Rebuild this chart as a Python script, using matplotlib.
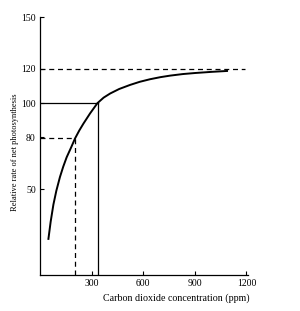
import numpy as np
import matplotlib
matplotlib.use("Agg")
import matplotlib.pyplot as plt

# curve
co2_ppm = [49, 62, 78, 95, 116, 135, 155, 180, 204, 228, 252, 291, 334,
           370, 408, 460, 524, 580, 640, 700, 757, 830, 900, 1000, 1087]
rate = [21, 31, 41, 49, 57, 63, 68.5, 74, 79.5, 84, 88, 94, 100,
        103.2, 105.6, 108.2, 110.6, 112.4, 113.9, 115.1, 116, 116.9, 117.5, 118.2, 118.7]

x_ticks = [300, 600, 900, 1200]
y_ticks = [50, 80, 100, 120, 150]

# guide lines
max_rate = 120
max_rate_x_end = 1190
dashed_pt = (204, 79.5)
solid_pt = (336, 100)

plt.rcParams["font.family"] = ["Liberation Serif", "DejaVu Serif"]

fig = plt.figure(figsize=(3.0, 3.11), dpi=100)
ax = fig.add_axes([0.1333, 0.1158, 0.694, 0.829])

ax.plot(co2_ppm, rate, color="black", lw=1.4)

dash = (0, (4, 3))
ax.plot([0, max_rate_x_end], [max_rate, max_rate], color="black", lw=0.9, ls=dash)
ax.plot([0, dashed_pt[0]], [dashed_pt[1], dashed_pt[1]], color="black", lw=0.9, ls=dash)
ax.plot([dashed_pt[0], dashed_pt[0]], [0, dashed_pt[1]], color="black", lw=0.9, ls=dash)
ax.plot([0, solid_pt[0]], [solid_pt[1], solid_pt[1]], color="black", lw=0.9)
ax.plot([solid_pt[0], solid_pt[0]], [0, solid_pt[1]], color="black", lw=0.9)

ax.set_xlim(0, 1210)
ax.set_ylim(0, 150)
ax.set_xticks(x_ticks)
ax.set_yticks(y_ticks)
ax.tick_params(direction="in", length=3, width=0.8, labelsize=7, pad=3)
for side in ["top", "right"]:
    ax.spines[side].set_visible(False)
for side in ["left", "bottom"]:
    ax.spines[side].set_linewidth(0.9)

ax.set_xlabel("Carbon dioxide concentration (ppm)", fontsize=7.2)
ax.xaxis.set_label_coords(0.654, -0.07)
ax.set_ylabel("Relative rate of net photosynthesis", fontsize=6)
ax.yaxis.set_label_coords(-0.1, 0.477)

fig.savefig("out.png", dpi=100)
